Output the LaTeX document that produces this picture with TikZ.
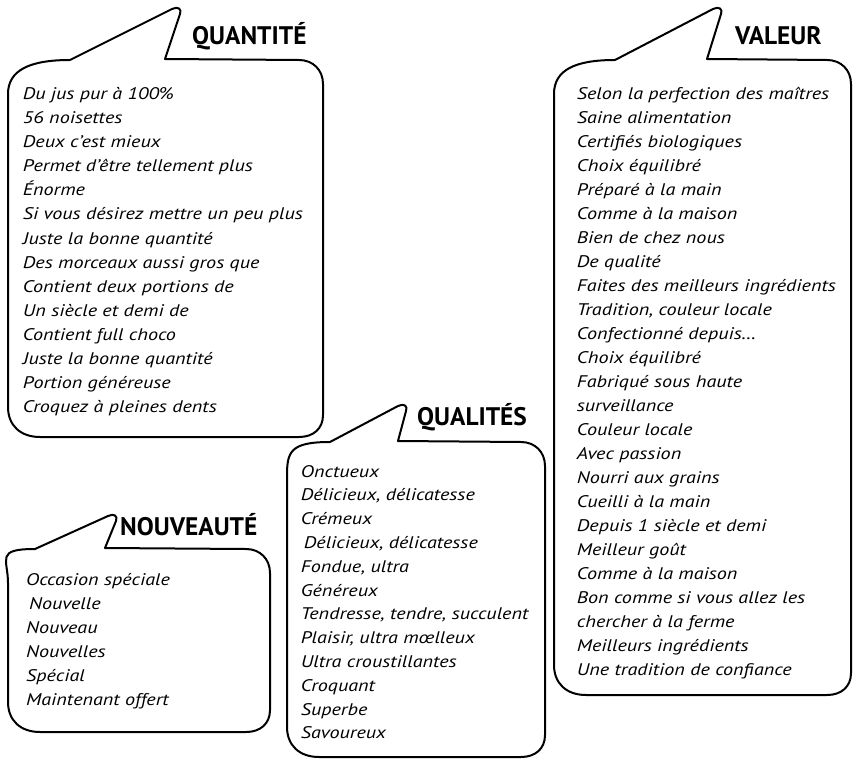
\documentclass[tikz,border=0pt]{standalone}
\usepackage{fontspec}
\setmainfont{PT Sans}
\newfontfamily\itemfont[FakeStretch=1.2]{PT Sans}
\tikzset{
  bub/.style={draw=black, line width=2pt, line join=round, fill=white},
  item/.style={anchor=base west, inner sep=0pt, font=\itemfont\itshape\fontsize{16.8}{20}\selectfont},
  ttl/.style={anchor=base west, inner sep=0pt, font=\bfseries\fontsize{25.4}{30}\selectfont}
}
% #1 left, #2 top, #3 right, #4 bottom, #5 tail base x, #6 tip x, #7 tip y, #8 tail right base x
\newcommand\mybubble[8]{%
  \draw[bub] (#5,#2) -- (#6-5,#7+1) .. controls (#6+1,#7-2) and (#6+5,#7+1) .. (#6+3,#7+6)
    -- (#8,#2-1) -- (#3-24,#2) .. controls (#3-10,#2) and (#3,#2+10) .. (#3,#2+24)
    -- (#3,#4-22) .. controls (#3,#4-8) and (#3-10,#4) .. (#3-24,#4)
    -- (#1+32,#4) .. controls (#1+12,#4) and (#1,#4-12) .. (#1,#4-30)
    -- (#1,#2+34) .. controls (#1,#2+10) and (#5-40,#2) .. cycle;
}
\begin{document}
\begin{tikzpicture}[x=1pt,y=-1pt]
\useasboundingbox (0,0) rectangle (853,759);
% bubbles
\mybubble{8}{60}{323}{437}{70}{177}{8}{165}
\mybubble{554}{60}{851}{695}{615}{718}{8}{707}
\mybubble{287}{442}{545}{757}{330}{403}{405}{398}
\mybubble{8}{549}{270}{732}{35}{113}{515}{105}
% titles
\node[ttl] (tq) at (192,45) {QUANTITÉ};
\node[ttl] (tv) at (735,45) {VALEUR};
\node[ttl] (tl) at (417,425) {QUALITÉS};
\node[ttl] (tn) at (120,535) {NOUVEAUTÉ};
% Quantite
\foreach \t [count=\i from 0] in {{Du jus pur à 100\%},{56 noisettes},{Deux c’est mieux},{Permet d’être tellement plus},{Énorme},{Si vous désirez mettre un peu plus},{Juste la bonne quantité},{Des morceaux aussi gros que},{Contient deux portions de},{Un siècle et demi de},{Contient full choco},{Juste la bonne quantité},{Portion généreuse},{Croquez à pleines dents}}
  \node[item] (q\i) at (22.7,100+24*\i) {\t};
% Valeur
\foreach \t [count=\i from 0] in {{Selon la perfection des maîtres},{Saine alimentation},{Certifiés biologiques},{Choix équilibré},{Préparé à la main},{Comme à la maison},{Bien de chez nous},{De qualité},{Faites des meilleurs ingrédients},{Tradition, couleur locale},{Confectionné depuis…},{Choix équilibré},{Fabriqué sous haute},{surveillance},{Couleur locale},{Avec passion},{Nourri aux grains},{Cueilli à la main},{Depuis 1 siècle et demi},{Meilleur goût},{Comme à la maison},{Bon comme si vous allez les},{chercher à la ferme},{Meilleurs ingrédients},{Une tradition de confiance}}
  \node[item] (v\i) at (576.7,100+23.96*\i) {\t};
% Qualites
\foreach \t [count=\i from 0] in {{Onctueux},{Délicieux, délicatesse},{Crémeux},{\hspace{3pt}Délicieux, délicatesse},{Fondue, ultra},{Généreux},{Tendresse, tendre, succulent},{Plaisir, ultra mœlleux},{Ultra croustillantes},{Croquant},{Superbe},{Savoureux}}
  \node[item] (l\i) at (300.7,477+23.8*\i) {\t};
% Nouveaute
\foreach \t [count=\i from 0] in {{Occasion spéciale},{\hspace{3pt}Nouvelle},{Nouveau},{Nouvelles},{Spécial},{Maintenant offert}}
  \node[item] (n\i) at (26,585+24*\i) {\t};
\end{tikzpicture}
\end{document}
